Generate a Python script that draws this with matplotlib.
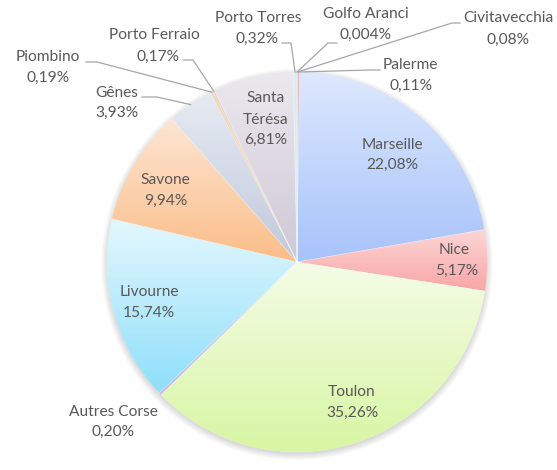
import matplotlib
matplotlib.use('Agg')
import matplotlib.pyplot as plt
import numpy as np
from matplotlib.colors import to_rgb
from matplotlib.patches import Circle

# ---------------- data ----------------
ports = ['Civitavecchia', 'Palerme', 'Marseille', 'Nice', 'Toulon', 'Autres Corse',
         'Livourne', 'Savone', 'Gênes', 'Piombino', 'Porto Ferraio', 'Santa Térésa',
         'Porto Torres', 'Golfo Aranci']
shares = [0.08, 0.11, 22.08, 5.17, 35.26, 0.20, 15.74, 9.94, 3.93, 0.19, 0.17, 6.81,
          0.32, 0.004]
pct_labels = ['0,08%', '0,11%', '22,08%', '5,17%', '35,26%', '0,20%', '15,74%', '9,94%',
              '3,93%', '0,19%', '0,17%', '6,81%', '0,32%', '0,004%']

# ---------------- styles ----------------
top_colors = ['#d9b8d9', '#eba3a3', '#dde8fd', '#fdd6d6', '#f4fce6', '#c9b8ec',
              '#e3f7fd', '#fde6d4', '#e6eaf2', '#f3d3b3', '#e6d6c6', '#ebe8ee',
              '#d6eef4', '#d6e4f4']
bottom_colors = ['#d9b8d9', '#eba3a3', '#a7c3fa', '#f9a5a5', '#d8f6a3', '#c9b8ec',
                 '#8fdffb', '#fbbd88', '#c0c9dc', '#f3d3b3', '#e6d6c6', '#cfc8d6',
                 '#d6eef4', '#d6e4f4']
text_color = '#595959'
line_color = '#a6a6a6'
FONT = 'Lato'
FS = 11.2

W, H = 557, 470
CX, CY, R = 297, 262, 190


def d(px, py):
    return ((px - CX) / R, (CY - py) / R)


# label positions in pixels
label_pos = {
    'Civitavecchia': [(508, 18), (508, 40)],
    'Palerme': [(410, 65), (411, 86)],
    'Marseille': [(392, 145), (392, 165)],
    'Nice': [(454, 250), (457, 271)],
    'Toulon': [(352, 392), (352, 413)],
    'Autres Corse': [(113, 412), (113, 432)],
    'Livourne': [(149, 292), (149, 313)],
    'Savone': [(165, 180), (166, 201)],
    'Gênes': [(117, 93), (117, 113)],
    'Piombino': [(48, 57), (48, 78)],
    'Porto Ferraio': [(154, 35), (158, 57)],
    'Santa Térésa': [(266, 98), (266, 120), (266, 140)],
    'Porto Torres': [(258, 18), (257, 39)],
    'Golfo Aranci': [(366, 14), (366, 35)],
}
# leader lines: (anchor near label, elbow) in pixels
leaders = {
    'Civitavecchia': ((460, 23), (452, 23)),
    'Palerme': ((380, 70), (370, 70)),
    'Golfo Aranci': ((337, 43), (328, 43)),
    'Porto Torres': ((282, 43), (291, 43)),
    'Porto Ferraio': ((183, 60), (193, 60)),
    'Piombino': ((86, 62), (97, 62)),
    'Gênes': ((142, 97), (157, 97)),
}

fig = plt.figure(figsize=(W / 100, H / 100), dpi=100)
ax = fig.add_axes([0, 0, 1, 1])
ax.set_axis_off()

# soft shadow
for i in range(6):
    ax.add_patch(Circle((0, -0.012), 1.0 + 0.006 * i, color='#000000', alpha=0.025,
                        lw=0, zorder=0.5))

wedges, _ = ax.pie(shares, startangle=90, counterclock=False, radius=1,
                   center=(0, 0), colors=top_colors,
                   wedgeprops=dict(linewidth=0))

for w, c1, c2 in zip(wedges, top_colors, bottom_colors):
    ext = w.get_path().get_extents()
    n = 256
    a = np.array(to_rgb(c1))
    b = np.array(to_rgb(c2))
    t = np.linspace(0, 1, n)[:, None]
    grad = (a[None, :] * (1 - t) + b[None, :] * t)[:, None, :]
    im = ax.imshow(grad, extent=(ext.x0, ext.x1, ext.y0, ext.y1), origin='upper',
                   aspect='auto', zorder=w.get_zorder() + 0.1, interpolation='bilinear')
    im.set_clip_path(w)

# thin white separators
for w in wedges:
    a = np.deg2rad(w.theta1)
    ax.plot([0, np.cos(a)], [0, np.sin(a)], color='white', lw=0.4, alpha=0.6, zorder=3)

# labels
for name, pct, w in zip(ports, pct_labels, wedges):
    pos = label_pos[name]
    if name == 'Santa Térésa':
        lines = ['Santa', 'Térésa', pct]
    else:
        lines = [name, pct]
    for txt, (px, py) in zip(lines, pos):
        x, y = d(px, py)
        ax.text(x, y, txt, ha='center', va='center', fontsize=FS, family=FONT,
                color=text_color, zorder=5)
    if name in leaders:
        anc, elb = leaders[name]
        mid = np.deg2rad((w.theta1 + w.theta2) / 2)
        ex, ey = np.cos(mid), np.sin(mid)
        ax_, ay_ = d(*anc)
        bx, by = d(*elb)
        ax.plot([ax_, bx, ex], [ay_, by, ey], color=line_color, lw=0.9, zorder=4,
                solid_joinstyle='miter')

ax.set_xlim(-CX / R, (W - CX) / R)
ax.set_ylim((CY - H) / R, CY / R)
ax.set_aspect('auto')

fig.savefig('out.png', dpi=100, facecolor='white')
